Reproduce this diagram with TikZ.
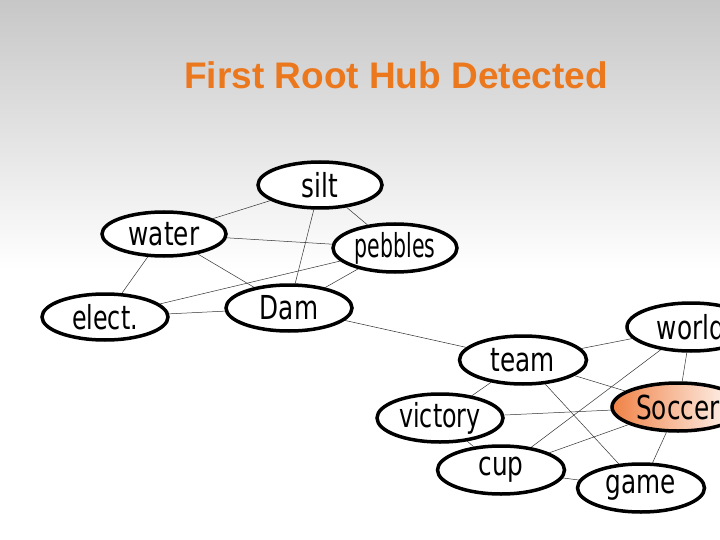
\documentclass[tikz,border=0pt]{standalone}
\usepackage{fontspec}
\usetikzlibrary{shapes.geometric,backgrounds}
\setmainfont{Liberation Sans}
\newfontfamily\nodefont{DejaVu Sans}
\definecolor{ttl}{RGB}{236,120,30}
\definecolor{socc}{RGB}{240,130,70}
\begin{document}
\begin{tikzpicture}[x=1pt,y=-1pt,
  nd/.style={ellipse,draw=black,line width=3.5pt,fill=white,font=\nodefont\fontsize{33}{33}\selectfont,inner sep=0pt},
  ed/.style={draw=black!80,line width=0.5pt}]
\useasboundingbox (0,0) rectangle (720,540);
\clip (0,0) rectangle (720,540);
\node[text=ttl,font=\bfseries\fontsize{37}{37}\selectfont] (title) at (396,75) {First Root Hub Detected};
\node[nd,minimum width=124,minimum height=46] (silt) at (320,185) {\scalebox{0.75}[1]{silt}};
\node[nd,minimum width=124,minimum height=44] (water) at (164,234) {\scalebox{0.75}[1]{water}};
\node[nd,minimum width=124,minimum height=48] (pebbles) at (395,248) {\scalebox{0.62}[1]{pebbles}};
\node[nd,minimum width=126,minimum height=46] (elect) at (105,317) {\scalebox{0.72}[1]{elect.}};
\node[nd,minimum width=126,minimum height=46] (dam) at (289,308) {\scalebox{0.75}[1]{Dam}};
\node[nd,minimum width=127,minimum height=48] (team) at (523,360) {\scalebox{0.75}[1]{team}};
\node[nd,minimum width=128,minimum height=48] (world) at (691,327) {\scalebox{0.75}[1]{world}};
\node[nd,minimum width=132,minimum height=48,left color=socc,right color=white] (soccer) at (678,407) {\scalebox{0.75}[1]{Soccer}};
\node[nd,minimum width=126,minimum height=48] (victory) at (440,418) {\scalebox{0.72}[1]{victory}};
\node[nd,minimum width=127,minimum height=48] (cup) at (501,470) {\scalebox{0.75}[1]{cup}};
\node[nd,minimum width=127,minimum height=48] (game) at (641,488) {\scalebox{0.75}[1]{game}};
\begin{pgfonlayer}{background}
\shade[top color=black!22,bottom color=white] (0,0) rectangle (720,270);
\fill[white] (0,270) rectangle (720,540);
\foreach \a/\b in {silt/water,silt/dam,silt/pebbles,water/pebbles,water/dam,water/elect,elect/pebbles,elect/dam,dam/pebbles,dam/team,team/world,team/soccer,team/victory,team/game,victory/soccer,victory/cup,cup/world,cup/soccer,cup/game,world/soccer,soccer/game}
  \draw[ed] (\a) -- (\b);
\end{pgfonlayer}
\end{tikzpicture}
\end{document}
